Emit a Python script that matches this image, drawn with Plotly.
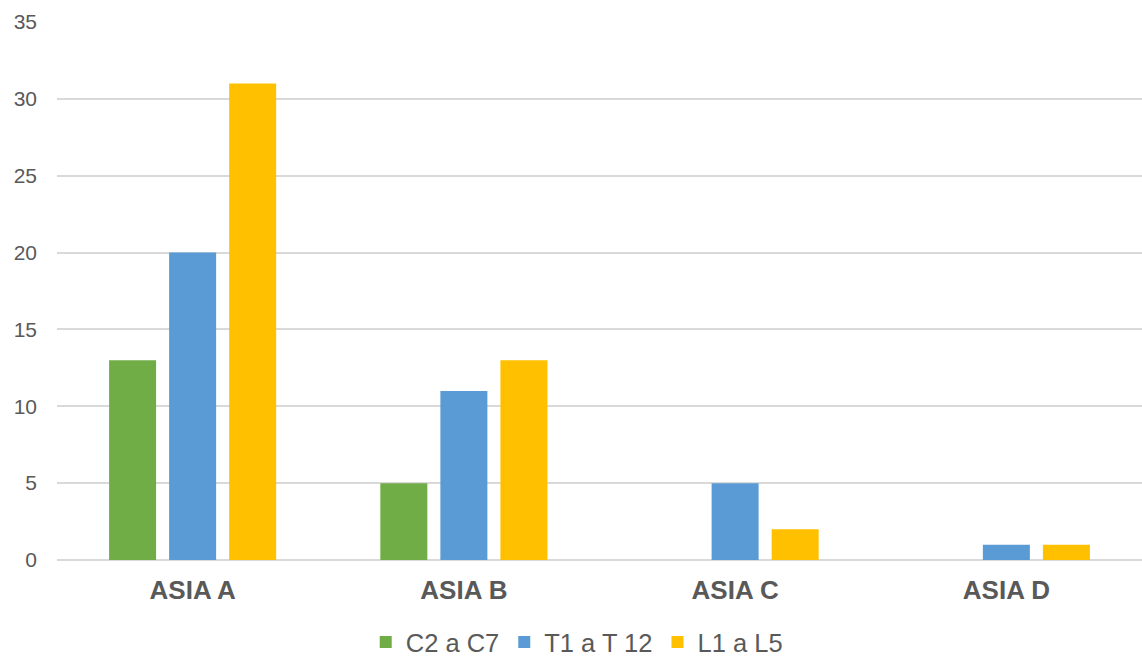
import plotly.graph_objects as go

categories = ["ASIA A", "ASIA B", "ASIA C", "ASIA D"]
series_names = ["C2 a C7", "T1 a T 12", "L1 a L5"]
c2_c7 = [13, 5, 0, 0]
t1_t12 = [20, 11, 5, 1]
l1_l5 = [31, 13, 2, 1]
colors = ["#70AD47", "#5B9BD5", "#FFC000"]

fig = go.Figure()
for name, vals, col in zip(series_names, [c2_c7, t1_t12, l1_l5], colors):
    fig.add_trace(go.Bar(x=categories, y=vals, name=name, marker_color=col,
                         marker_line_width=0))

text_gray = "#595959"
grid_gray = "#D9D9D9"
font_family = "Liberation Sans, Arial, sans-serif"

fig.update_layout(
    width=1142, height=658,
    margin=dict(l=57, r=0, t=22, b=98, autoexpand=False),
    paper_bgcolor="white", plot_bgcolor="white",
    barmode="group", bargap=0.336, bargroupgap=0.217,
    font=dict(family=font_family, color=text_gray),
    legend=dict(orientation="h", x=0.479, xanchor="center", y=-0.153,
                yanchor="middle", font=dict(size=25.5, color=text_gray),
                itemwidth=30, traceorder="normal"),
    showlegend=True,
)
fig.update_yaxes(range=[0, 35], dtick=5, showgrid=True, gridcolor=grid_gray,
                 gridwidth=1.5, zeroline=True, zerolinecolor=grid_gray,
                 zerolinewidth=1.5, showline=False, automargin=False,
                 tickfont=dict(size=21, color=text_gray), ticklabelstandoff=19)
fig.update_xaxes(showgrid=False, showline=False, automargin=False,
                 tickfont=dict(size=26, color=text_gray, family=font_family,
                               weight="bold"),
                 ticklabelstandoff=12)

fig.write_html("out.html")
